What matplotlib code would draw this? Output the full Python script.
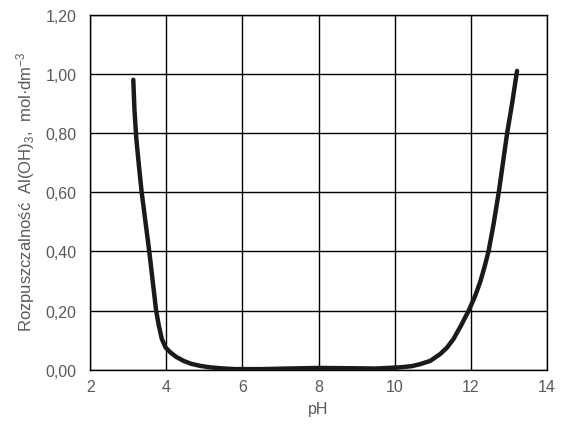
import matplotlib
matplotlib.use("Agg")
import matplotlib.pyplot as plt

# Data
ph = [3.13, 3.16, 3.21, 3.27, 3.35, 3.45, 3.55, 3.64, 3.73, 3.80, 3.88, 3.98, 4.10,
      4.25, 4.45, 4.65, 4.89, 5.15, 5.41, 5.8, 6.5, 7.2, 8.0, 8.8, 9.5,
      10.15, 10.45, 10.68, 10.94, 11.2, 11.38, 11.55, 11.75, 11.95, 12.12,
      12.26, 12.37, 12.47, 12.6, 12.74, 12.85, 12.96, 13.09, 13.22]
solubility = [0.98, 0.88, 0.78, 0.70, 0.60, 0.50, 0.40, 0.30, 0.20, 0.15, 0.104, 0.075, 0.059,
              0.044, 0.03, 0.02, 0.013, 0.008, 0.005, 0.002, 0.002, 0.004, 0.006, 0.005, 0.004,
              0.008, 0.012, 0.019, 0.03, 0.053, 0.075, 0.104, 0.15, 0.20, 0.25,
              0.30, 0.35, 0.40, 0.49, 0.60, 0.70, 0.80, 0.90, 1.01]

x_ticks = [2, 4, 6, 8, 10, 12, 14]
y_ticks = [0.0, 0.2, 0.4, 0.6, 0.8, 1.0, 1.2]

plt.rcParams['font.family'] = ['Liberation Sans', 'DejaVu Sans']
plt.rcParams['mathtext.default'] = 'regular'

fig = plt.figure(figsize=(5.62, 4.35), dpi=100)
ax = fig.add_axes([0.1607, 0.1478, 0.8121, 0.8161])

ax.plot(ph, solubility, color='#1a1a1a', linewidth=3.2, solid_capstyle='round',
        solid_joinstyle='round', zorder=3)

ax.set_xlim(2, 14)
ax.set_ylim(0, 1.2)
ax.set_xticks(x_ticks)
ax.set_yticks(y_ticks)
ax.set_xticklabels([str(t) for t in x_ticks])
ax.set_yticklabels([f"{t:.2f}".replace('.', ',') for t in y_ticks])
ax.tick_params(length=0, colors='#595959', labelsize=11.5)
ax.tick_params(axis='x', pad=7)
ax.tick_params(axis='y', pad=10)
ax.grid(True, color='black', linewidth=1.0)
for s in ax.spines.values():
    s.set_color('black')
    s.set_linewidth(1.0)

ax.set_xlabel('pH', color='#595959', fontsize=11.5, labelpad=5)
ax.set_ylabel('Rozpuszczalność  Al(OH)$_3$,  mol·dm$^{-3}$', color='#595959',
              fontsize=12)
ax.yaxis.set_label_coords(-0.117, 0.503)

fig.savefig('out.png', dpi=100)
